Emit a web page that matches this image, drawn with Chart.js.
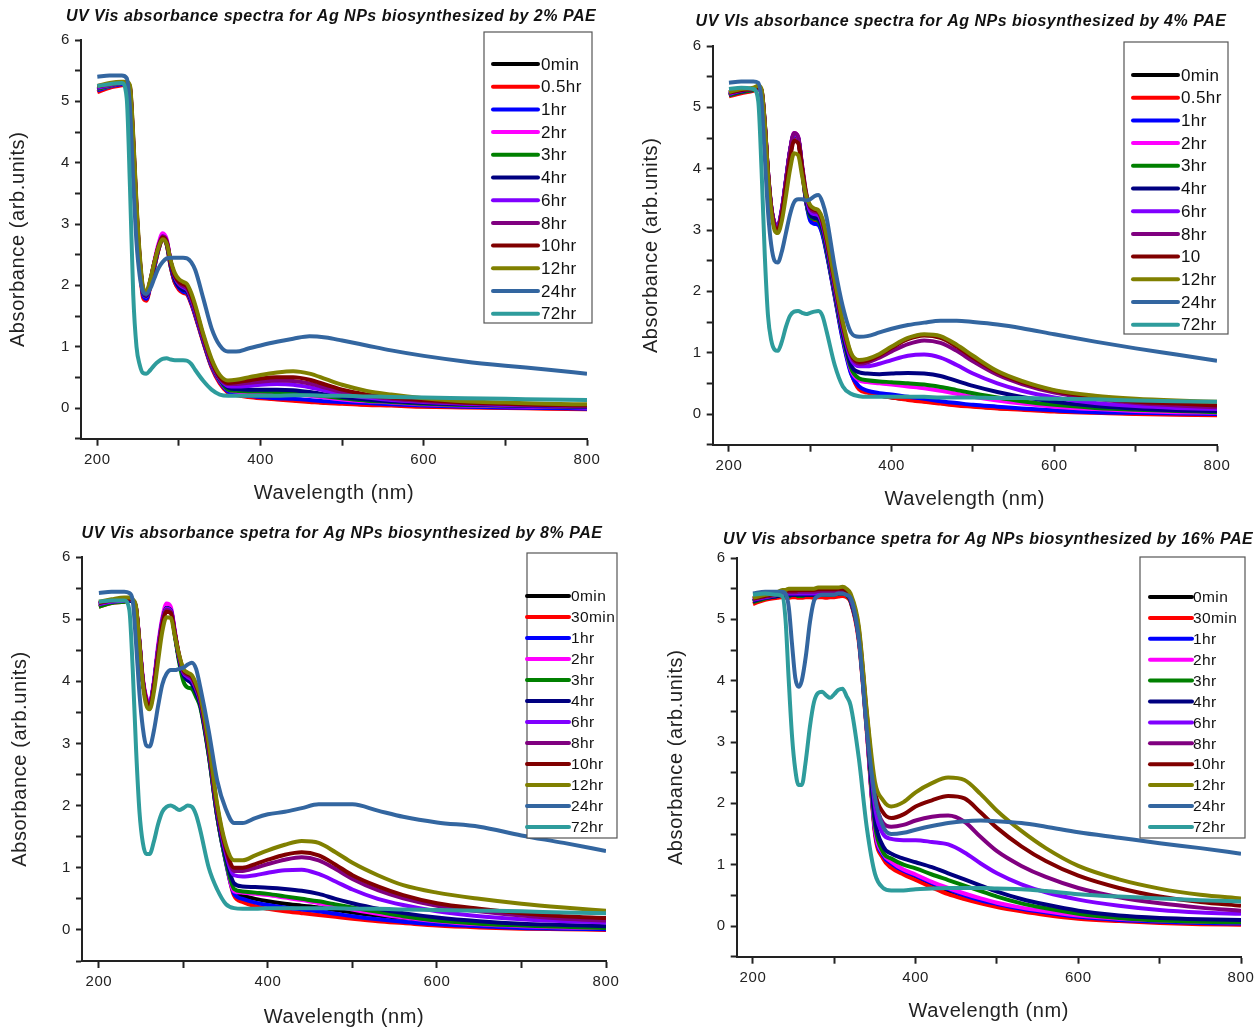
<!DOCTYPE html>
<html>
<head>
<meta charset="utf-8">
<script src="https://cdn.jsdelivr.net/npm/chart.js@4.4.1/dist/chart.umd.min.js"></script>
<style>
  html, body { margin: 0; padding: 0; background: #fff; }
  body { position: relative; width: 1259px; height: 1032px; overflow: hidden; }
  canvas { position: absolute; }
</style>
</head>
<body>
<canvas id="c1"></canvas>
<canvas id="c2"></canvas>
<canvas id="c3"></canvas>
<canvas id="c4"></canvas>
<script>
// wavelength grid (nm) shared by every curve
const wavelengths = [200, 215, 230, 236, 240, 244, 248, 252, 256, 260, 265, 270, 275, 280, 285, 290, 295, 300, 305, 310,
  315, 320, 330, 340, 350, 360, 370, 385, 400, 420, 440, 460, 480, 500, 530, 560, 600, 650, 700, 750, 800];

const seriesColors = ['#000000', '#ff0000', '#0000ff', '#ff00ff', '#008000', '#000080',
  '#8000ff', '#800080', '#800000', '#808000', '#3366a0', '#2e9c9c'];

const chartTitles = [
  'UV Vis absorbance spectra for Ag NPs biosynthesized by 2% PAE',
  'UV VIs absorbance spectra for Ag NPs biosynthesized by 4% PAE',
  'UV Vis absorbance spetra for Ag NPs biosynthesized by 8% PAE',
  'UV Vis absorbance spetra for Ag NPs biosynthesized by 16% PAE'
];

const pae2Labels = ['0min', '0.5hr', '1hr', '2hr', '3hr', '4hr', '6hr', '8hr', '10hr', '12hr', '24hr', '72hr'];
const pae4Labels = ['0min', '0.5hr', '1hr', '2hr', '3hr', '4hr', '6hr', '8hr', '10', '12hr', '24hr', '72hr'];
const pae8Labels = ['0min', '30min', '1hr', '2hr', '3hr', '4hr', '6hr', '8hr', '10hr', '12hr', '24hr', '72hr'];
const pae16Labels = ['0min', '30min', '1hr', '2hr', '3hr', '4hr', '6hr', '8hr', '10hr', '12hr', '24hr', '72hr'];

// absorbance, one row per time, same order as the labels
const pae2Series = [
  [5.2, 5.25, 5.28, 5.28, 5.15, 4.25, 3.15, 2.35, 1.85, 1.78, 2.0, 2.3, 2.58, 2.75, 2.66, 2.3, 2.05, 1.95, 1.9, 1.87, 1.72, 1.52, 1.08, 0.68, 0.42, 0.26, 0.22, 0.19, 0.17, 0.15, 0.13, 0.11, 0.09, 0.08, 0.06, 0.05, 0.03, 0.02, 0.01, 0.0, 0.0],
  [5.15, 5.22, 5.26, 5.27, 5.15, 4.2, 3.1, 2.3, 1.8, 1.75, 1.98, 2.3, 2.58, 2.76, 2.67, 2.3, 2.05, 1.93, 1.88, 1.85, 1.7, 1.5, 1.06, 0.66, 0.4, 0.25, 0.21, 0.18, 0.16, 0.14, 0.12, 0.1, 0.08, 0.07, 0.05, 0.04, 0.02, 0.01, 0.0, -0.01, -0.02],
  [5.18, 5.24, 5.28, 5.28, 5.17, 4.25, 3.15, 2.35, 1.85, 1.78, 2.0, 2.32, 2.6, 2.77, 2.68, 2.32, 2.08, 1.96, 1.9, 1.87, 1.72, 1.52, 1.08, 0.68, 0.43, 0.27, 0.23, 0.2, 0.18, 0.16, 0.15, 0.13, 0.11, 0.1, 0.08, 0.06, 0.04, 0.02, 0.01, 0.0, -0.01],
  [5.2, 5.25, 5.3, 5.3, 5.2, 4.3, 3.2, 2.4, 1.9, 1.82, 2.06, 2.4, 2.68, 2.85, 2.75, 2.38, 2.12, 2.0, 1.94, 1.9, 1.75, 1.55, 1.1, 0.7, 0.45, 0.3, 0.27, 0.25, 0.24, 0.23, 0.22, 0.2, 0.17, 0.14, 0.11, 0.09, 0.06, 0.04, 0.03, 0.02, 0.01],
  [5.2, 5.25, 5.3, 5.3, 5.2, 4.3, 3.2, 2.4, 1.9, 1.83, 2.05, 2.36, 2.62, 2.78, 2.7, 2.35, 2.12, 2.0, 1.95, 1.9, 1.76, 1.56, 1.1, 0.7, 0.46, 0.3, 0.28, 0.27, 0.27, 0.26, 0.25, 0.22, 0.19, 0.16, 0.12, 0.1, 0.07, 0.05, 0.04, 0.03, 0.02],
  [5.22, 5.26, 5.3, 5.3, 5.2, 4.3, 3.2, 2.4, 1.9, 1.83, 2.05, 2.36, 2.62, 2.78, 2.7, 2.35, 2.1, 1.98, 1.93, 1.9, 1.75, 1.56, 1.1, 0.71, 0.47, 0.33, 0.31, 0.3, 0.3, 0.3, 0.29, 0.26, 0.22, 0.18, 0.14, 0.11, 0.08, 0.06, 0.04, 0.03, 0.02],
  [5.22, 5.26, 5.3, 5.3, 5.22, 4.35, 3.25, 2.42, 1.92, 1.85, 2.08, 2.38, 2.64, 2.8, 2.72, 2.38, 2.14, 2.02, 1.97, 1.93, 1.78, 1.58, 1.12, 0.72, 0.48, 0.36, 0.35, 0.36, 0.38, 0.39, 0.38, 0.34, 0.28, 0.22, 0.17, 0.13, 0.1, 0.07, 0.05, 0.04, 0.03],
  [5.24, 5.27, 5.3, 5.3, 5.22, 4.35, 3.25, 2.43, 1.92, 1.85, 2.08, 2.38, 2.64, 2.8, 2.72, 2.38, 2.15, 2.04, 1.99, 1.95, 1.8, 1.6, 1.14, 0.74, 0.49, 0.39, 0.39, 0.41, 0.43, 0.45, 0.44, 0.4, 0.33, 0.26, 0.2, 0.15, 0.11, 0.08, 0.06, 0.05, 0.04],
  [5.25, 5.28, 5.3, 5.3, 5.24, 4.4, 3.3, 2.45, 1.94, 1.86, 2.08, 2.38, 2.63, 2.78, 2.7, 2.38, 2.16, 2.06, 2.02, 1.98, 1.84, 1.64, 1.17, 0.77, 0.51, 0.41, 0.42, 0.45, 0.48, 0.5, 0.5, 0.46, 0.38, 0.3, 0.22, 0.17, 0.13, 0.09, 0.07, 0.05, 0.04],
  [5.25, 5.3, 5.32, 5.32, 5.26, 4.45, 3.35, 2.5, 1.97, 1.9, 2.1, 2.38, 2.62, 2.75, 2.68, 2.4, 2.2, 2.1, 2.06, 2.02, 1.88, 1.68, 1.2, 0.8, 0.54, 0.45, 0.46, 0.5, 0.54, 0.58, 0.6, 0.56, 0.47, 0.38, 0.28, 0.22, 0.16, 0.11, 0.09, 0.07, 0.06],
  [5.4, 5.42, 5.42, 5.38, 4.9, 3.7, 2.7, 2.15, 1.9, 1.86, 1.95, 2.12, 2.28, 2.38, 2.44, 2.45, 2.45, 2.45, 2.45, 2.44, 2.38, 2.25, 1.78, 1.3, 1.02, 0.92, 0.92, 0.97, 1.02, 1.08, 1.13, 1.17, 1.15, 1.1, 1.02, 0.94, 0.85, 0.76, 0.69, 0.63, 0.56],
  [5.25, 5.28, 5.3, 5.05, 3.6, 1.85, 1.0, 0.7, 0.57, 0.56, 0.62, 0.7, 0.76, 0.8, 0.81, 0.79, 0.78, 0.78, 0.78, 0.77, 0.72, 0.62, 0.44, 0.3, 0.22, 0.2, 0.2, 0.2, 0.2, 0.2, 0.21, 0.21, 0.2, 0.2, 0.19, 0.18, 0.17, 0.16, 0.15, 0.14, 0.13]
];

const pae4Series = [
  [5.2, 5.25, 5.28, 5.3, 5.25, 4.7, 3.9, 3.35, 3.1, 3.05, 3.3, 3.75, 4.2, 4.5, 4.45, 3.95, 3.45, 3.2, 3.15, 3.12, 2.95, 2.65, 1.95, 1.25, 0.7, 0.42, 0.36, 0.3, 0.27, 0.24, 0.21, 0.18, 0.15, 0.13, 0.1, 0.08, 0.05, 0.03, 0.01, 0.0, -0.01],
  [5.18, 5.23, 5.27, 5.3, 5.25, 4.7, 3.9, 3.35, 3.1, 3.05, 3.3, 3.78, 4.25, 4.52, 4.47, 3.97, 3.45, 3.2, 3.15, 3.12, 2.95, 2.65, 1.93, 1.22, 0.68, 0.4, 0.35, 0.3, 0.27, 0.23, 0.2, 0.17, 0.14, 0.12, 0.09, 0.07, 0.04, 0.02, 0.0, -0.01, -0.02],
  [5.2, 5.25, 5.28, 5.3, 5.25, 4.7, 3.9, 3.35, 3.1, 3.05, 3.32, 3.8, 4.28, 4.55, 4.5, 4.0, 3.45, 3.15, 3.1, 3.08, 2.92, 2.62, 1.92, 1.2, 0.66, 0.45, 0.38, 0.34, 0.32, 0.28, 0.25, 0.21, 0.18, 0.15, 0.12, 0.09, 0.06, 0.03, 0.02, 0.01, 0.0],
  [5.22, 5.26, 5.3, 5.3, 5.26, 4.72, 3.92, 3.37, 3.12, 3.07, 3.35, 3.82, 4.3, 4.58, 4.52, 4.02, 3.5, 3.25, 3.2, 3.18, 3.0, 2.7, 1.98, 1.28, 0.72, 0.55, 0.52, 0.5, 0.48, 0.45, 0.42, 0.38, 0.33, 0.28, 0.22, 0.17, 0.12, 0.08, 0.05, 0.03, 0.02],
  [5.2, 5.25, 5.28, 5.3, 5.25, 4.7, 3.9, 3.36, 3.1, 3.05, 3.32, 3.8, 4.28, 4.55, 4.5, 4.0, 3.48, 3.22, 3.18, 3.15, 2.98, 2.68, 1.97, 1.28, 0.75, 0.58, 0.55, 0.53, 0.52, 0.5, 0.48, 0.44, 0.39, 0.34, 0.27, 0.21, 0.15, 0.1, 0.07, 0.05, 0.03],
  [5.22, 5.26, 5.3, 5.3, 5.26, 4.72, 3.92, 3.37, 3.1, 3.05, 3.32, 3.8, 4.28, 4.56, 4.5, 4.0, 3.5, 3.25, 3.2, 3.18, 3.02, 2.72, 2.0, 1.32, 0.8, 0.68, 0.66, 0.65, 0.66, 0.67, 0.66, 0.62, 0.54, 0.46, 0.36, 0.28, 0.2, 0.13, 0.09, 0.06, 0.05],
  [5.22, 5.27, 5.3, 5.3, 5.27, 4.75, 3.95, 3.38, 3.1, 3.04, 3.32, 3.8, 4.28, 4.56, 4.5, 4.02, 3.55, 3.3, 3.26, 3.24, 3.08, 2.78, 2.06, 1.38, 0.9, 0.78, 0.78, 0.82, 0.88, 0.95, 0.97, 0.92, 0.8, 0.66, 0.5, 0.38, 0.27, 0.18, 0.13, 0.1, 0.08],
  [5.24, 5.28, 5.3, 5.32, 5.28, 4.75, 3.95, 3.38, 3.08, 3.02, 3.3, 3.78, 4.28, 4.58, 4.52, 4.05, 3.6, 3.35, 3.3, 3.28, 3.12, 2.82, 2.1, 1.42, 0.95, 0.82, 0.84, 0.92, 1.02, 1.14, 1.2, 1.16, 1.03, 0.86, 0.64, 0.49, 0.35, 0.25, 0.18, 0.14, 0.11],
  [5.24, 5.28, 5.3, 5.32, 5.28, 4.75, 3.95, 3.35, 3.05, 3.0, 3.25, 3.7, 4.15, 4.45, 4.42, 4.0, 3.58, 3.38, 3.33, 3.3, 3.15, 2.85, 2.14, 1.46, 0.98, 0.85, 0.87, 0.96, 1.08, 1.22, 1.28, 1.24, 1.1, 0.92, 0.68, 0.52, 0.38, 0.27, 0.2, 0.17, 0.14],
  [5.25, 5.3, 5.32, 5.35, 5.3, 4.75, 3.9, 3.3, 3.0, 2.95, 3.15, 3.55, 3.98, 4.25, 4.22, 3.88, 3.55, 3.4, 3.35, 3.32, 3.18, 2.9, 2.18, 1.5, 1.0, 0.88, 0.9, 0.98, 1.1, 1.24, 1.3, 1.27, 1.13, 0.95, 0.7, 0.54, 0.39, 0.3, 0.25, 0.22, 0.2],
  [5.4, 5.42, 5.42, 5.4, 5.1, 4.2, 3.3, 2.75, 2.5, 2.47, 2.65, 2.95, 3.25, 3.45, 3.5, 3.5, 3.48, 3.5, 3.55, 3.57, 3.45, 3.2, 2.4, 1.75, 1.33, 1.26, 1.27, 1.33, 1.39, 1.45, 1.49, 1.52, 1.52, 1.5, 1.46, 1.4, 1.3, 1.18, 1.07, 0.97, 0.87],
  [5.3, 5.32, 5.3, 5.1, 4.0, 2.6, 1.6, 1.2, 1.05, 1.03, 1.18, 1.42, 1.6, 1.67, 1.68, 1.65, 1.63, 1.65, 1.67, 1.68, 1.6, 1.35, 0.8, 0.45, 0.33, 0.29, 0.28, 0.28, 0.28, 0.28, 0.28, 0.27, 0.27, 0.27, 0.26, 0.26, 0.25, 0.24, 0.22, 0.21, 0.2]
];

const pae8Series = [
  [5.25, 5.28, 5.3, 5.3, 5.28, 5.15, 4.6, 4.0, 3.7, 3.62, 3.95, 4.5, 4.95, 5.18, 5.15, 4.75, 4.35, 4.12, 4.05, 4.0, 3.85, 3.65, 2.85, 1.85, 1.15, 0.62, 0.55, 0.5, 0.46, 0.42, 0.39, 0.36, 0.32, 0.28, 0.23, 0.19, 0.14, 0.1, 0.07, 0.05, 0.04],
  [5.2, 5.26, 5.28, 5.3, 5.28, 5.15, 4.6, 4.0, 3.7, 3.62, 3.95, 4.52, 4.98, 5.2, 5.16, 4.76, 4.35, 4.1, 4.02, 3.98, 3.82, 3.62, 2.82, 1.82, 1.12, 0.55, 0.45, 0.38, 0.34, 0.3, 0.27, 0.24, 0.21, 0.18, 0.14, 0.11, 0.07, 0.04, 0.02, 0.01, 0.0],
  [5.22, 5.27, 5.3, 5.3, 5.28, 5.15, 4.6, 4.0, 3.7, 3.62, 3.96, 4.52, 4.98, 5.2, 5.17, 4.77, 4.35, 4.1, 4.02, 3.98, 3.82, 3.62, 2.82, 1.82, 1.1, 0.58, 0.5, 0.44, 0.4, 0.36, 0.33, 0.3, 0.26, 0.22, 0.17, 0.13, 0.09, 0.06, 0.03, 0.02, 0.01],
  [5.24, 5.28, 5.3, 5.32, 5.3, 5.18, 4.65, 4.05, 3.75, 3.66, 4.0, 4.58, 5.02, 5.25, 5.2, 4.8, 4.38, 4.12, 4.05, 4.0, 3.85, 3.65, 2.86, 1.86, 1.14, 0.62, 0.6, 0.58, 0.56, 0.52, 0.48, 0.43, 0.38, 0.33, 0.26, 0.2, 0.14, 0.09, 0.06, 0.04, 0.03],
  [5.2, 5.26, 5.28, 5.3, 5.28, 5.15, 4.6, 4.0, 3.7, 3.6, 3.95, 4.5, 4.95, 5.18, 5.14, 4.72, 4.3, 4.0, 3.9, 3.88, 3.75, 3.58, 2.8, 1.82, 1.12, 0.66, 0.62, 0.6, 0.58, 0.54, 0.5, 0.46, 0.41, 0.36, 0.29, 0.22, 0.15, 0.1, 0.07, 0.05, 0.03],
  [5.24, 5.28, 5.3, 5.3, 5.28, 5.15, 4.6, 4.0, 3.7, 3.62, 3.96, 4.5, 4.96, 5.18, 5.15, 4.75, 4.35, 4.1, 4.02, 3.96, 3.82, 3.62, 2.85, 1.86, 1.18, 0.75, 0.7, 0.69, 0.68, 0.66, 0.63, 0.58, 0.5, 0.43, 0.34, 0.27, 0.2, 0.14, 0.1, 0.08, 0.06],
  [5.24, 5.28, 5.3, 5.32, 5.3, 5.18, 4.62, 4.02, 3.72, 3.63, 3.96, 4.5, 4.95, 5.17, 5.14, 4.76, 4.38, 4.14, 4.07, 4.02, 3.88, 3.68, 2.9, 1.92, 1.25, 0.88, 0.86, 0.88, 0.92, 0.96, 0.97, 0.9, 0.78, 0.65, 0.5, 0.4, 0.3, 0.22, 0.17, 0.14, 0.12],
  [5.26, 5.3, 5.32, 5.33, 5.3, 5.18, 4.62, 4.02, 3.7, 3.6, 3.92, 4.45, 4.92, 5.15, 5.12, 4.76, 4.4, 4.16, 4.1, 4.05, 3.9, 3.7, 2.92, 1.95, 1.3, 0.95, 0.95, 1.0, 1.06, 1.13, 1.17, 1.12, 0.98, 0.82, 0.64, 0.51, 0.39, 0.3, 0.23, 0.18, 0.15],
  [5.26, 5.3, 5.32, 5.33, 5.3, 5.18, 4.6, 4.0, 3.68, 3.58, 3.9, 4.42, 4.9, 5.12, 5.1, 4.76, 4.42, 4.18, 4.12, 4.08, 3.93, 3.73, 2.95, 1.98, 1.33, 1.0, 1.0, 1.06, 1.13, 1.21, 1.25, 1.2, 1.05, 0.88, 0.7, 0.56, 0.43, 0.34, 0.27, 0.22, 0.19],
  [5.28, 5.32, 5.35, 5.35, 5.32, 5.2, 4.6, 3.95, 3.62, 3.55, 3.82, 4.32, 4.8, 5.03, 5.02, 4.72, 4.42, 4.2, 4.14, 4.1, 3.96, 3.76, 3.0, 2.02, 1.38, 1.12, 1.12, 1.2, 1.28, 1.37, 1.43, 1.4, 1.25, 1.08, 0.88, 0.72, 0.6, 0.5, 0.42, 0.36, 0.31],
  [5.42, 5.44, 5.44, 5.42, 5.3, 4.6, 3.8, 3.25, 2.97, 2.95, 3.2, 3.6, 3.95, 4.12, 4.18, 4.18, 4.2, 4.22, 4.27, 4.3, 4.2, 3.9, 3.2, 2.4, 1.95, 1.72, 1.72, 1.8, 1.86, 1.9, 1.96, 2.02, 2.02, 2.02, 1.92, 1.82, 1.73, 1.66, 1.52, 1.4, 1.27],
  [5.28, 5.3, 5.3, 5.15, 4.2, 2.9, 1.9, 1.4, 1.22, 1.22, 1.42, 1.7, 1.9, 1.98, 2.0, 1.97, 1.93, 1.96, 2.0, 1.98, 1.85, 1.6, 1.0, 0.65, 0.42, 0.35, 0.34, 0.34, 0.35, 0.35, 0.35, 0.35, 0.35, 0.34, 0.34, 0.33, 0.32, 0.31, 0.3, 0.28, 0.27]
];

const pae16Series = [
  [5.3, 5.35, 5.38, 5.4, 5.38, 5.38, 5.4, 5.4, 5.38, 5.38, 5.4, 5.4, 5.38, 5.4, 5.4, 5.38, 5.4, 5.4, 5.4, 5.42, 5.4, 5.3, 4.7, 3.2, 1.55, 1.15, 1.0, 0.88, 0.78, 0.66, 0.55, 0.47, 0.4, 0.34, 0.27, 0.21, 0.15, 0.1, 0.07, 0.05, 0.04],
  [5.25, 5.32, 5.35, 5.36, 5.35, 5.35, 5.36, 5.36, 5.35, 5.35, 5.36, 5.36, 5.35, 5.36, 5.36, 5.35, 5.36, 5.36, 5.37, 5.38, 5.36, 5.28, 4.65, 3.15, 1.5, 1.1, 0.95, 0.84, 0.75, 0.63, 0.52, 0.44, 0.37, 0.31, 0.24, 0.18, 0.12, 0.08, 0.05, 0.03, 0.02],
  [5.3, 5.35, 5.38, 5.4, 5.4, 5.38, 5.4, 5.4, 5.4, 5.38, 5.4, 5.4, 5.4, 5.4, 5.4, 5.4, 5.4, 5.42, 5.42, 5.42, 5.4, 5.3, 4.7, 3.2, 1.55, 1.15, 1.02, 0.9, 0.82, 0.7, 0.6, 0.5, 0.42, 0.36, 0.28, 0.22, 0.15, 0.1, 0.07, 0.05, 0.04],
  [5.32, 5.36, 5.4, 5.42, 5.42, 5.4, 5.42, 5.42, 5.42, 5.4, 5.42, 5.42, 5.42, 5.42, 5.42, 5.42, 5.42, 5.42, 5.44, 5.44, 5.42, 5.32, 4.72, 3.22, 1.58, 1.18, 1.05, 0.92, 0.84, 0.72, 0.62, 0.53, 0.45, 0.38, 0.3, 0.24, 0.17, 0.12, 0.09, 0.07, 0.06],
  [5.28, 5.34, 5.38, 5.4, 5.38, 5.38, 5.4, 5.4, 5.38, 5.38, 5.4, 5.4, 5.4, 5.4, 5.4, 5.4, 5.4, 5.4, 5.42, 5.42, 5.4, 5.3, 4.72, 3.25, 1.65, 1.2, 1.1, 1.0, 0.94, 0.84, 0.75, 0.66, 0.57, 0.48, 0.37, 0.29, 0.2, 0.13, 0.09, 0.07, 0.06],
  [5.3, 5.35, 5.38, 5.4, 5.4, 5.4, 5.4, 5.4, 5.4, 5.4, 5.4, 5.4, 5.4, 5.4, 5.42, 5.42, 5.42, 5.42, 5.42, 5.44, 5.42, 5.32, 4.75, 3.3, 1.75, 1.3, 1.18, 1.1, 1.04, 0.96, 0.86, 0.76, 0.66, 0.56, 0.44, 0.35, 0.25, 0.17, 0.13, 0.11, 0.1],
  [5.32, 5.36, 5.4, 5.42, 5.42, 5.42, 5.42, 5.42, 5.42, 5.42, 5.42, 5.42, 5.42, 5.42, 5.44, 5.44, 5.44, 5.44, 5.44, 5.45, 5.42, 5.33, 4.78, 3.35, 1.95, 1.5, 1.42, 1.4, 1.4, 1.37, 1.33, 1.2, 1.02, 0.86, 0.68, 0.55, 0.43, 0.33, 0.26, 0.22, 0.2],
  [5.33, 5.37, 5.4, 5.44, 5.44, 5.44, 5.44, 5.44, 5.45, 5.45, 5.45, 5.45, 5.45, 5.46, 5.46, 5.46, 5.46, 5.46, 5.46, 5.47, 5.44, 5.35, 4.8, 3.4, 2.1, 1.68, 1.62, 1.65, 1.72, 1.78, 1.8, 1.7, 1.45, 1.22, 0.98, 0.8, 0.62, 0.47, 0.37, 0.3, 0.25],
  [5.34, 5.38, 5.42, 5.46, 5.46, 5.47, 5.47, 5.47, 5.48, 5.48, 5.48, 5.48, 5.48, 5.49, 5.49, 5.49, 5.49, 5.49, 5.5, 5.5, 5.46, 5.38, 4.85, 3.45, 2.2, 1.85, 1.76, 1.82, 1.95, 2.05, 2.12, 2.08, 1.85, 1.6, 1.3, 1.06, 0.82, 0.62, 0.48, 0.39, 0.33],
  [5.35, 5.4, 5.44, 5.48, 5.48, 5.5, 5.5, 5.5, 5.5, 5.5, 5.5, 5.5, 5.5, 5.52, 5.52, 5.52, 5.52, 5.52, 5.52, 5.53, 5.5, 5.42, 4.9, 3.5, 2.35, 2.05, 1.95, 2.02, 2.18, 2.33, 2.42, 2.38, 2.15, 1.88, 1.55, 1.27, 0.98, 0.76, 0.61, 0.51, 0.45],
  [5.42, 5.45, 5.45, 5.45, 5.42, 5.2, 4.6, 4.05, 3.9, 4.0, 4.4, 4.95, 5.3, 5.38, 5.4, 5.4, 5.4, 5.4, 5.42, 5.42, 5.4, 5.35, 4.7, 3.2, 2.1, 1.62, 1.5, 1.52, 1.57, 1.63, 1.68, 1.71, 1.72, 1.71, 1.68, 1.62, 1.53, 1.44, 1.35, 1.27, 1.18],
  [5.4, 5.42, 5.4, 5.38, 5.0, 4.0, 3.1, 2.55, 2.3, 2.3, 2.7, 3.25, 3.65, 3.8, 3.82, 3.76, 3.72, 3.78, 3.85, 3.87, 3.75, 3.6, 2.75, 1.6, 0.85, 0.62, 0.58, 0.58, 0.6, 0.61, 0.62, 0.62, 0.62, 0.61, 0.6, 0.57, 0.52, 0.48, 0.45, 0.42, 0.4]
];

const FONT = '"Liberation Sans", Arial, Helvetica, sans-serif';

// page-pixel layout of each of the four panels
const panels = [
  { id: 'c1', box: [0, 0, 630, 516], area: { l: 81, r: 587, t: 40, b: 438.7 }, titleX: 331, titleY: 17, yTitleX: 18, xTitleY: 493,
    legend: { l: 484, t: 32, w: 108, h: 291, y0: 64, dy: 22.7, x0: 493, x1: 538, tx: 541, size: 17 },
    title: chartTitles[0], labels: pae2Labels, series: pae2Series },
  { id: 'c2', box: [630, 0, 629, 516], area: { l: 712.7, r: 1217, t: 46, b: 444.7 }, titleX: 961, titleY: 22, yTitleX: 651, xTitleY: 499,
    legend: { l: 1124, t: 42, w: 104, h: 292, y0: 75, dy: 22.7, x0: 1133, x1: 1178, tx: 1181, size: 17 },
    title: chartTitles[1], labels: pae4Labels, series: pae4Series },
  { id: 'c3', box: [0, 516, 630, 516], area: { l: 82, r: 606, t: 557, b: 961 }, titleX: 342, titleY: 534, yTitleX: 20, xTitleY: 1017,
    legend: { l: 527, t: 553, w: 90, h: 285, y0: 596, dy: 21, x0: 527, x1: 569, tx: 571, size: 15.5 },
    title: chartTitles[2], labels: pae8Labels, series: pae8Series },
  { id: 'c4', box: [630, 516, 629, 516], area: { l: 736.7, r: 1241, t: 558, b: 956.7 }, titleX: 988, titleY: 540, yTitleX: 676, xTitleY: 1011,
    legend: { l: 1140, t: 557, w: 105, h: 281, y0: 597, dy: 20.9, x0: 1150, x1: 1192, tx: 1193, size: 15.5 },
    title: chartTitles[3], labels: pae16Labels, series: pae16Series }
];

// the original figure is a little wide-set, so text gets some extra tracking
const tracking = {
  id: 'tracking',
  beforeDraw(chart) { chart.ctx.letterSpacing = '0.6px'; },
  afterDraw(chart) { chart.ctx.letterSpacing = '0px'; }
};

// title is wider than the plot area, so it is drawn here without a width clamp
const panelTitle = {
  id: 'panelTitle',
  afterDraw(chart, args, o) {
    const ctx = chart.ctx;
    ctx.save();
    ctx.letterSpacing = '0.5px';
    ctx.font = 'italic bold 16px ' + FONT;
    ctx.fillStyle = '#111';
    ctx.textAlign = 'center';
    ctx.textBaseline = 'middle';
    ctx.fillText(o.text, o.x, o.y);
    ctx.restore();
  }
};

// boxed legend drawn inside the plot, like the Origin original
const boxLegend = {
  id: 'boxLegend',
  afterDraw(chart, args, o) {
    const ctx = chart.ctx;
    ctx.save();
    ctx.letterSpacing = '0.4px';
    ctx.fillStyle = '#fff';
    ctx.fillRect(o.l, o.t, o.w, o.h);
    ctx.strokeStyle = '#555';
    ctx.lineWidth = 1.2;
    ctx.strokeRect(o.l, o.t, o.w, o.h);
    ctx.font = o.size + 'px ' + FONT;
    ctx.textBaseline = 'middle';
    ctx.lineCap = 'round';
    chart.data.datasets.forEach((ds, i) => {
      const y = o.y0 + i * o.dy;
      ctx.strokeStyle = ds.borderColor;
      ctx.lineWidth = 4;
      ctx.beginPath();
      ctx.moveTo(o.x0, y);
      ctx.lineTo(o.x1, y);
      ctx.stroke();
      ctx.fillStyle = '#111';
      ctx.fillText(ds.label, o.tx, y + 1);
    });
    ctx.restore();
  }
};

function makePanel(p) {
  const [cx, cy, cw, ch] = p.box;
  const canvas = document.getElementById(p.id);
  canvas.width = cw;
  canvas.height = ch;
  canvas.style.left = cx + 'px';
  canvas.style.top = cy + 'px';

  const a = { l: p.area.l - cx, r: p.area.r - cx, t: p.area.t - cy, b: p.area.b - cy };
  const axisLH = 24;
  const yW = a.l;
  const yTitlePad = (p.yTitleX - cx) - axisLH / 2;
  const xH = (p.xTitleY - cy) - a.b + axisLH / 2 + 2;
  const padBottom = ch - a.b - xH;
  const padRight = cw - a.r;

  const lg = p.legend;
  const legendOpts = {
    l: lg.l - cx, t: lg.t - cy, w: lg.w, h: lg.h, y0: lg.y0 - cy, dy: lg.dy,
    x0: lg.x0 - cx, x1: lg.x1 - cx, tx: lg.tx - cx, size: lg.size
  };

  const datasets = p.labels.map((label, i) => ({
    label: label,
    data: wavelengths.map((w, k) => ({ x: w, y: p.series[i][k] })),
    borderColor: seriesColors[i],
    backgroundColor: seriesColors[i],
    borderWidth: 4,
    pointRadius: 0,
    fill: false,
    cubicInterpolationMode: 'monotone',
    order: p.labels.length - i
  }));

  const tickFont = { family: FONT, size: 15 };
  const axisTitleFont = { family: FONT, size: 20 };

  new Chart(canvas, {
    type: 'line',
    data: { datasets: datasets },
    options: {
      responsive: false,
      animation: false,
      events: [],
      layout: { padding: { left: 0, top: a.t, right: padRight, bottom: padBottom }, autoPadding: false },
      plugins: {
        legend: { display: false },
        tooltip: { enabled: false },
        title: { display: false },
        panelTitle: { text: p.title, x: p.titleX - cx, y: p.titleY - cy },
        boxLegend: legendOpts
      },
      scales: {
        x: {
          type: 'linear',
          min: 180,
          max: 800,
          afterFit: s => { s.height = xH; },
          ticks: {
            stepSize: 100,
            includeBounds: false,
            autoSkip: false,
            maxRotation: 0,
            padding: 5,
            color: '#222',
            font: tickFont,
            callback: v => (v % 200 === 0 ? v : '')
          },
          grid: { drawOnChartArea: false, drawTicks: true, tickLength: 7, tickColor: '#222', tickWidth: 2 },
          border: { display: true, color: '#222', width: 2 },
          title: { display: true, text: 'Wavelength (nm)', color: '#222', font: axisTitleFont, padding: { top: 0, bottom: 2 } }
        },
        y: {
          type: 'linear',
          min: -0.5,
          max: 6,
          afterFit: s => { s.width = yW; },
          ticks: {
            stepSize: 0.5,
            autoSkip: false,
            padding: 5,
            color: '#222',
            font: tickFont,
            callback: v => (Number.isInteger(v) ? v : '')
          },
          grid: { drawOnChartArea: false, drawTicks: true, tickLength: 6, tickColor: '#222', tickWidth: 2 },
          border: { display: true, color: '#222', width: 2 },
          title: { display: true, text: 'Absorbance (arb.units)', color: '#222', font: axisTitleFont, padding: { top: yTitlePad, bottom: 0 } }
        }
      }
    },
    plugins: [tracking, panelTitle, boxLegend]
  });
}

panels.forEach(makePanel);
</script>
</body>
</html>
